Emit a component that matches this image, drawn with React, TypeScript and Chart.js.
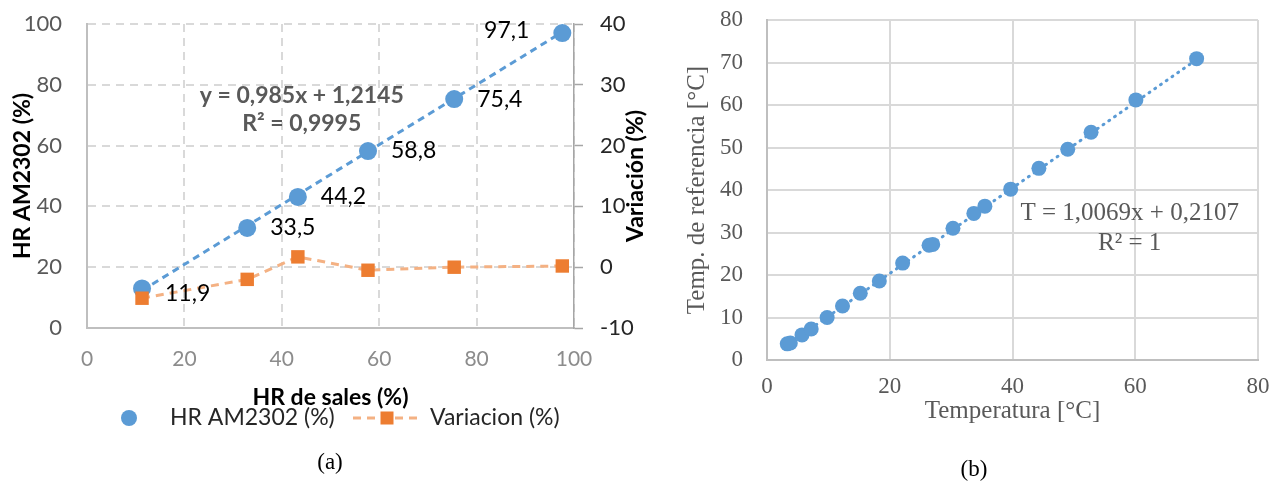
import React, { useEffect, useRef } from "react";
import { Chart, registerables } from "chart.js";
Chart.register(...registerables);

// ---------- Chart (a) data ----------
const salesHR = [11.3, 32.9, 43.3, 57.7, 75.4, 97.6];
const am2302HR = [13.0, 32.9, 43.1, 58.2, 75.3, 97.0];
const am2302Labels = ["11,9", "33,5", "44,2", "58,8", "75,4", "97,1"];
const variacion = [-5.1, -2.0, 1.7, -0.5, 0.0, 0.2];
const trendASlope = 0.985;
const trendAIntercept = 1.2145;
const equationA = ["y = 0,985x + 1,2145", "R² = 0,9995"];
const xTicksA = [0, 20, 40, 60, 80, 100];

// ---------- Chart (b) data ----------
const tempSensor = [3.3, 3.8, 5.7, 7.2, 9.8, 12.3, 15.2, 18.3, 22.1, 26.4, 27.0, 30.3, 33.7, 35.5, 39.7, 44.3, 49.0, 52.8, 60.1, 70.0];
const tempRef = [3.8, 4.0, 5.9, 7.3, 10.0, 12.7, 15.7, 18.6, 22.8, 27.0, 27.2, 31.0, 34.5, 36.2, 40.2, 45.1, 49.6, 53.6, 61.2, 70.9];
const trendBSlope = 1.0069;
const trendBIntercept = 0.2107;
const equationB = ["T = 1,0069x + 0,2107", "R² = 1"];

const captionA = "(a)";
const captionB = "(b)";

const BLUE = "#5B9BD5";
const ORANGE = "#ED7D31";
const LIGHT_ORANGE = "#F4B183";
const FONT_A = "Lato, 'Open Sans', sans-serif";
const FONT_B = "'Liberation Serif', 'Times New Roman', serif";
const labelSide = ["right", "right", "right", "right", "right", "left"];

const noPad = (s: any) => {
  s.paddingLeft = 0;
  s.paddingRight = 0;
  s.paddingTop = 0;
  s.paddingBottom = 0;
};

function configA(): any {
  const xMin = Math.min(...salesHR);
  const xMax = Math.max(...salesHR);
  const overlay = {
    id: "overlayA",
    afterDatasetsDraw(chart: any) {
      const ctx = chart.ctx;
      const xs = chart.scales.x;
      const ys = chart.scales.y;
      ctx.save();
      // data labels
      const meta = chart.getDatasetMeta(1);
      ctx.font = `23px ${FONT_A}`;
      ctx.fillStyle = "#000";
      ctx.textBaseline = "middle";
      meta.data.forEach((pt: any, i: number) => {
        if (labelSide[i] === "left") {
          ctx.textAlign = "right";
          ctx.fillText(am2302Labels[i], pt.x - 33, pt.y - 3);
        } else {
          ctx.textAlign = "left";
          ctx.fillText(am2302Labels[i], pt.x + 23, pt.y + (i === 0 ? 5 : 0));
        }
      });
      // trendline equation
      ctx.font = `bold 23px ${FONT_A}`;
      ctx.fillStyle = "#595959";
      ctx.textAlign = "center";
      ctx.fillText(equationA[0], xs.getPixelForValue(44.1), ys.getPixelForValue(76.6));
      ctx.fillText(equationA[1], xs.getPixelForValue(44.1), ys.getPixelForValue(67.4));
      ctx.restore();
    },
    afterDraw(chart: any) {
      const ctx = chart.ctx;
      const area = chart.chartArea;
      ctx.save();
      // right axis title (rotated bottom-to-top)
      ctx.translate(636, (area.top + area.bottom) / 2);
      ctx.rotate(-Math.PI / 2);
      ctx.font = `bold 23px ${FONT_A}`;
      ctx.fillStyle = "#000";
      ctx.textAlign = "center";
      ctx.textBaseline = "middle";
      ctx.fillText("Variación (%)", 0, 0);
      ctx.restore();

      ctx.save();
      const ds = chart.data.datasets;
      const ly = 418;
      // legend entry 1: marker only
      ctx.fillStyle = BLUE;
      ctx.beginPath();
      ctx.arc(129, ly, 8, 0, Math.PI * 2);
      ctx.fill();
      ctx.font = `23px ${FONT_A}`;
      ctx.fillStyle = "#262626";
      ctx.textAlign = "left";
      ctx.textBaseline = "middle";
      ctx.fillText(ds[1].label, 170, ly);
      // legend entry 2: dashed line + square
      ctx.strokeStyle = LIGHT_ORANGE;
      ctx.lineWidth = 3;
      ctx.setLineDash([8, 6]);
      ctx.beginPath();
      ctx.moveTo(353, ly);
      ctx.lineTo(421, ly);
      ctx.stroke();
      ctx.setLineDash([]);
      ctx.fillStyle = ORANGE;
      ctx.fillRect(387 - 6.5, ly - 6.5, 13, 13);
      ctx.fillStyle = "#262626";
      ctx.fillText(ds[0].label, 430, ly);
      // caption
      ctx.font = `23px ${FONT_B}`;
      ctx.fillStyle = "#000";
      ctx.textAlign = "center";
      ctx.fillText(captionA, 330, 463);
      ctx.restore();
    },
  };
  return {
    type: "scatter",
    data: {
      datasets: [
        {
          label: "Variacion (%)",
          data: salesHR.map((x, i) => ({ x, y: variacion[i] })),
          yAxisID: "y1",
          showLine: true,
          borderColor: LIGHT_ORANGE,
          borderWidth: 3,
          borderDash: [8, 6],
          pointStyle: "rect",
          pointRadius: 9.5,
          pointBackgroundColor: ORANGE,
          pointBorderColor: ORANGE,
          pointBorderWidth: 0,
          order: 0,
        },
        {
          label: "HR AM2302 (%)",
          data: salesHR.map((x, i) => ({ x, y: am2302HR[i] })),
          yAxisID: "y",
          showLine: false,
          pointRadius: 9,
          pointBackgroundColor: BLUE,
          pointBorderColor: BLUE,
          pointBorderWidth: 0,
          order: 1,
        },
        {
          label: "trend",
          data: [
            { x: xMin, y: trendASlope * xMin + trendAIntercept },
            { x: xMax, y: trendASlope * xMax + trendAIntercept },
          ],
          yAxisID: "y",
          showLine: true,
          borderColor: BLUE,
          borderWidth: 3,
          borderDash: [7, 5],
          pointRadius: 0,
          order: 2,
        },
      ],
    },
    options: {
      animation: false,
      responsive: true,
      maintainAspectRatio: false,
      layout: { padding: { top: 24, left: 0, right: 0, bottom: 0 } },
      plugins: { legend: { display: false }, tooltip: { enabled: false } },
      scales: {
        x: {
          type: "linear",
          min: 0,
          max: 100,
          afterBuildTicks: (s: any) => { s.ticks = xTicksA.map((v) => ({ value: v })); },
          ticks: { color: "#8c8c8c", font: { family: FONT_A, size: 21 }, padding: 19 },
          grid: { color: "#d9d9d9", lineWidth: 2, drawTicks: false },
          border: { color: "#bfbfbf", width: 2, dash: [8, 6] },
          title: {
            display: true,
            text: "HR de sales (%)",
            color: "#000",
            font: { family: FONT_A, size: 23, weight: "bold" },
            padding: { top: 0, bottom: 74 },
          },
          afterFit: (s: any) => { s.height = 157; noPad(s); },
        },
        y: {
          position: "left",
          min: 0,
          max: 100,
          ticks: { stepSize: 20, color: "#595959", font: { family: FONT_A, size: 22 }, padding: 25 },
          grid: { color: "#d9d9d9", lineWidth: 2, drawTicks: false },
          border: { color: "#bfbfbf", width: 2, dash: [8, 6] },
          title: {
            display: true,
            text: "HR AM2302 (%)",
            color: "#000",
            font: { family: FONT_A, size: 23, weight: "bold" },
            padding: { top: 9, bottom: 0 },
          },
          afterFit: (s: any) => { s.width = 87; noPad(s); },
        },
        y1: {
          position: "right",
          min: -10,
          max: 40,
          ticks: { stepSize: 10, color: "#262626", font: { family: FONT_A, size: 22 }, padding: 17 },
          grid: { drawOnChartArea: false, drawTicks: true, tickLength: 9, tickColor: "#a6a6a6", tickWidth: 1.5 },
          border: { color: "#a6a6a6", width: 1.5 },
          afterFit: (s: any) => { s.width = 96; noPad(s); },
        },
      },
    },
    plugins: [overlay],
  };
}

function configB(): any {
  const xMin = Math.min(...tempSensor);
  const xMax = Math.max(...tempSensor);
  const overlay = {
    id: "overlayB",
    afterDraw(chart: any) {
      const ctx = chart.ctx;
      const xs = chart.scales.x;
      const ys = chart.scales.y;
      ctx.save();
      ctx.font = `25px ${FONT_B}`;
      ctx.fillStyle = "#595959";
      ctx.textAlign = "center";
      ctx.textBaseline = "middle";
      ctx.fillText(equationB[0], xs.getPixelForValue(59.1), ys.getPixelForValue(34.6));
      ctx.fillText(equationB[1], xs.getPixelForValue(59.1), ys.getPixelForValue(27.5));
      ctx.font = `23px ${FONT_B}`;
      ctx.fillStyle = "#000";
      ctx.fillText(captionB, 294, 470);
      ctx.restore();
    },
  };
  return {
    type: "scatter",
    data: {
      datasets: [
        {
          label: "Temp",
          data: tempSensor.map((x, i) => ({ x, y: tempRef[i] })),
          showLine: false,
          pointRadius: 7.5,
          pointBackgroundColor: BLUE,
          pointBorderColor: BLUE,
          pointBorderWidth: 0,
          order: 0,
        },
        {
          label: "trend",
          data: [
            { x: xMin, y: trendBSlope * xMin + trendBIntercept },
            { x: xMax, y: trendBSlope * xMax + trendBIntercept },
          ],
          showLine: true,
          borderColor: BLUE,
          borderWidth: 3,
          borderDash: [1, 6],
          borderCapStyle: "round",
          pointRadius: 0,
          order: 1,
        },
      ],
    },
    options: {
      animation: false,
      responsive: true,
      maintainAspectRatio: false,
      layout: { padding: { top: 20, left: 0, right: 14, bottom: 0 } },
      plugins: { legend: { display: false }, tooltip: { enabled: false } },
      scales: {
        x: {
          type: "linear",
          min: 0,
          max: 80,
          ticks: { stepSize: 20, color: "#595959", font: { family: FONT_B, size: 23 }, padding: 13 },
          grid: { color: "#d9d9d9", lineWidth: 2, drawTicks: false },
          border: { color: "#bfbfbf", width: 2 },
          title: {
            display: true,
            text: "Temperatura [°C]",
            color: "#595959",
            font: { family: FONT_B, size: 25 },
            padding: { top: 0, bottom: 59 },
          },
          afterFit: (s: any) => { s.height = 125; noPad(s); },
        },
        y: {
          min: 0,
          max: 80,
          ticks: { stepSize: 10, color: "#595959", font: { family: FONT_B, size: 23 }, padding: 24 },
          grid: { color: "#d9d9d9", lineWidth: 2, drawTicks: false },
          border: { color: "#bfbfbf", width: 2 },
          title: {
            display: true,
            text: "Temp. de referencia [°C]",
            color: "#595959",
            font: { family: FONT_B, size: 25 },
            padding: { top: 2, bottom: 0 },
          },
          afterFit: (s: any) => { s.width = 87; noPad(s); },
        },
      },
    },
    plugins: [overlay],
  };
}

export default function App() {
  const refA = useRef<HTMLCanvasElement>(null);
  const refB = useRef<HTMLCanvasElement>(null);
  useEffect(() => {
    const a = new Chart(refA.current as HTMLCanvasElement, configA());
    const b = new Chart(refB.current as HTMLCanvasElement, configB());
    return () => {
      a.destroy();
      b.destroy();
    };
  }, []);
  return (
    <div style={{ position: "absolute", left: 0, top: 0, width: 1272, height: 485, background: "#fff" }}>
      <div style={{ position: "absolute", left: 0, top: 0, width: 670, height: 485 }}>
        <canvas ref={refA} />
      </div>
      <div style={{ position: "absolute", left: 680, top: 0, width: 592, height: 485 }}>
        <canvas ref={refB} />
      </div>
    </div>
  );
}
